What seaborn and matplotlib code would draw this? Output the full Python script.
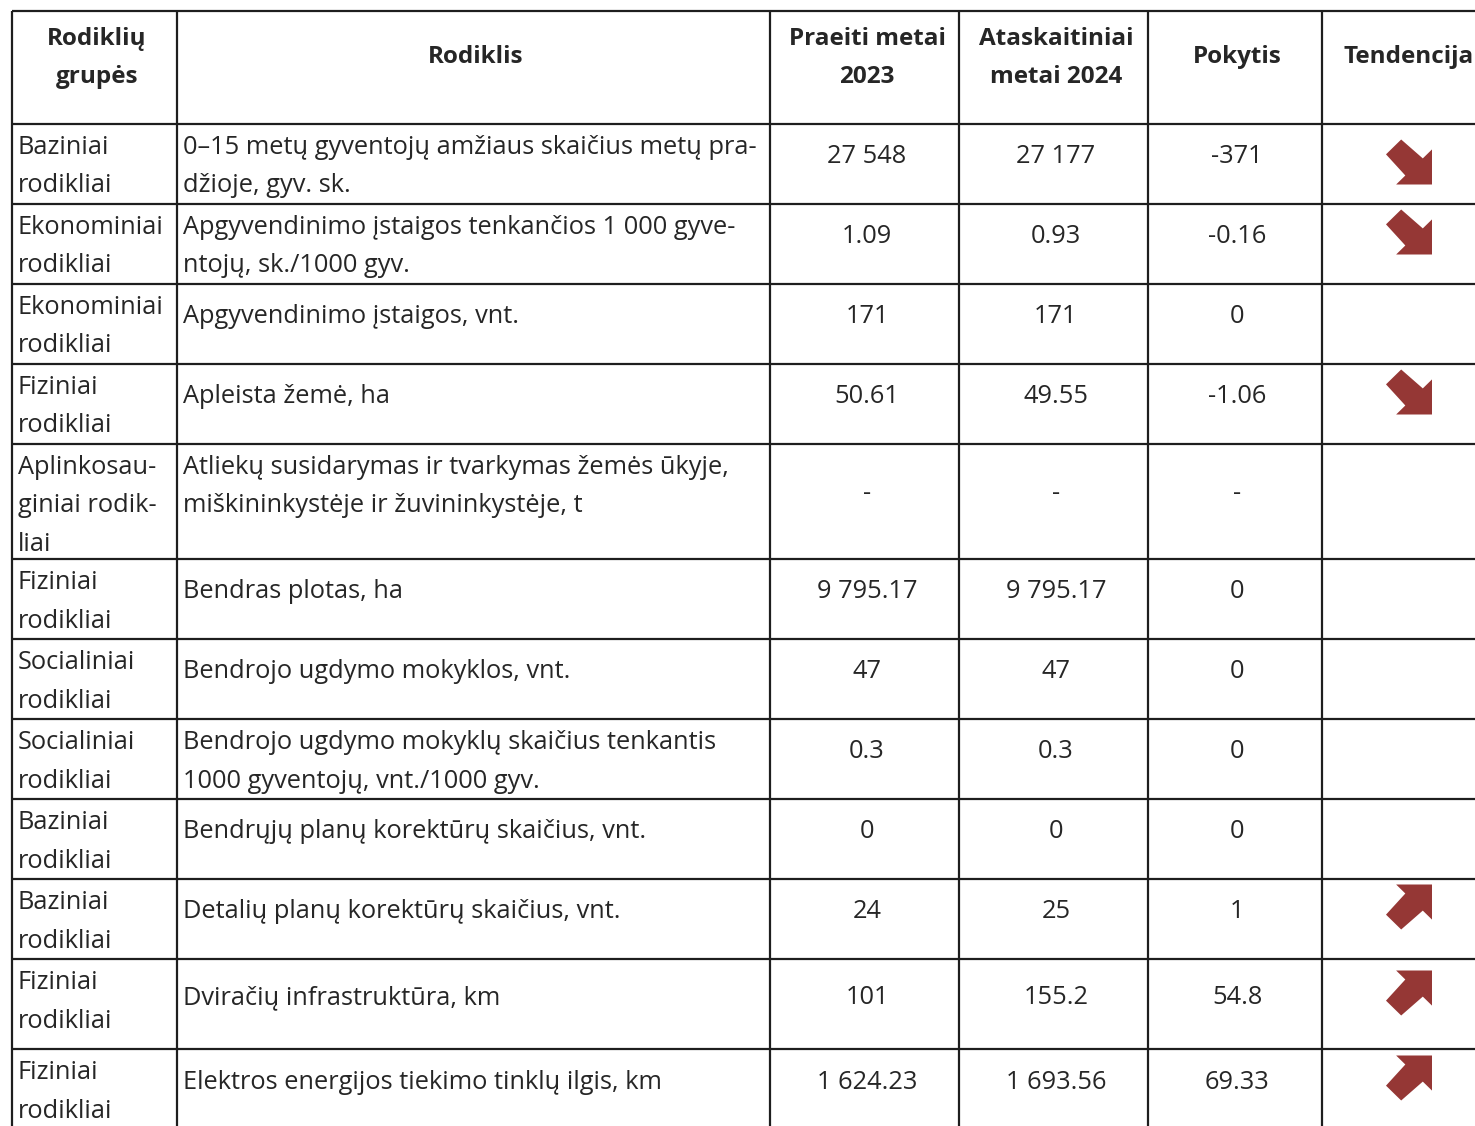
import matplotlib
matplotlib.use('Agg')
import matplotlib.pyplot as plt
import seaborn as sns
from matplotlib.patches import Polygon

# -----------------------------
# DATA
# -----------------------------
headers = ['Rodiklių\ngrupės', 'Rodiklis', 'Praeiti metai\n2023',
           'Ataskaitiniai\nmetai 2024', 'Pokytis', 'Tendencija']

groups = [
    'Baziniai\nrodikliai',
    'Ekonominiai\nrodikliai',
    'Ekonominiai\nrodikliai',
    'Fiziniai\nrodikliai',
    'Aplinkosau-\nginiai rodik-\nliai',
    'Fiziniai\nrodikliai',
    'Socialiniai\nrodikliai',
    'Socialiniai\nrodikliai',
    'Baziniai\nrodikliai',
    'Baziniai\nrodikliai',
    'Fiziniai\nrodikliai',
    'Fiziniai\nrodikliai',
]

indicators = [
    '0–15 metų gyventojų amžiaus skaičius metų pra-\ndžioje, gyv. sk.',
    'Apgyvendinimo įstaigos tenkančios 1 000 gyve-\nntojų, sk./1000 gyv.',
    'Apgyvendinimo įstaigos, vnt.',
    'Apleista žemė, ha',
    'Atliekų susidarymas ir tvarkymas žemės ūkyje,\nmiškininkystėje ir žuvininkystėje, t',
    'Bendras plotas, ha',
    'Bendrojo ugdymo mokyklos, vnt.',
    'Bendrojo ugdymo mokyklų skaičius tenkantis\n1000 gyventojų, vnt./1000 gyv.',
    'Bendrųjų planų korektūrų skaičius, vnt.',
    'Detalių planų korektūrų skaičius, vnt.',
    'Dviračių infrastruktūra, km',
    'Elektros energijos tiekimo tinklų ilgis, km',
]

prev_year = ['27 548', '1.09', '171', '50.61', '-', '9 795.17',
             '47', '0.3', '0', '24', '101', '1 624.23']
curr_year = ['27 177', '0.93', '171', '49.55', '-', '9 795.17',
             '47', '0.3', '0', '25', '155.2', '1 693.56']
change = ['-371', '-0.16', '0', '-1.06', '-', '0',
          '0', '0', '0', '1', '54.8', '69.33']

# -----------------------------
# LAYOUT (pixels)
# -----------------------------
row_edges = [11, 124, 204, 284, 364, 444, 559, 639, 719, 799, 879, 959, 1049, 1140]
col_edges = [12, 177, 770, 959, 1148, 1322, 1520]
num_y = [154, 234, 314, 394, 491, 589, 669, 749, 829, 909, 995, 1080]
col_centers = [97, 476, 867, 1056, 1237, 1409]
line_gap = 38.5
arrow_color = '#953735'

sns.set_theme(style='white')
plt.rcParams['font.family'] = ['Open Sans', 'DejaVu Sans']

fig = plt.figure(figsize=(14.75, 11.26), dpi=100)
ax = fig.add_axes([0, 0, 1, 1])
ax.set_xlim(0, 1475)
ax.set_ylim(1126, 0)
ax.axis('off')

# grid lines
for y in row_edges:
    ax.plot([col_edges[0], col_edges[-1]], [y, y], color='#1e1e1e', lw=1.6,
            solid_capstyle='butt')
for x in col_edges:
    ax.plot([x, x], [row_edges[0], row_edges[-1]], color='#1e1e1e', lw=1.6,
            solid_capstyle='butt')

fs = 18.3
fs_head = 17.5

# header
for cx, h in zip(col_centers, headers):
    lines = h.split('\n')
    if len(lines) == 1:
        ax.text(cx, 63, lines[0], ha='center', va='baseline', fontsize=fs_head,
                fontweight='bold')
    else:
        for k, ln in enumerate(lines):
            ax.text(cx, 45 + k * 38, ln, ha='center', va='baseline',
                    fontsize=fs_head, fontweight='bold')


def trend_arrow(cx, cy, up):
    w, h = 46, 45
    pts = [(0.22, 1), (1, 1), (1, 0.22), (0.8, 0.42), (0.33, 0),
           (0, 0.33), (0.42, 0.8)]
    xy = []
    for u, v in pts:
        if not up:
            v = 1 - v
        xy.append((cx - w / 2 + u * w, cy + h / 2 - v * h))
    ax.add_patch(Polygon(xy, closed=True, color=arrow_color, lw=0))


# body rows
for i in range(len(groups)):
    top = row_edges[i + 1]
    for k, ln in enumerate(groups[i].split('\n')):
        ax.text(18, top + 30 + k * line_gap, ln, ha='left', va='baseline',
                fontsize=fs)
    ind_lines = indicators[i].split('\n')
    if len(ind_lines) == 1:
        ax.text(183, num_y[i] + 9, ind_lines[0], ha='left', va='baseline',
                fontsize=fs)
    else:
        for k, ln in enumerate(ind_lines):
            ax.text(183, top + 30 + k * line_gap, ln, ha='left', va='baseline',
                    fontsize=fs)
    for cx, val in zip(col_centers[2:5], [prev_year[i], curr_year[i], change[i]]):
        ax.text(cx, num_y[i] + 9, val, ha='center', va='baseline', fontsize=fs)
    if change[i] not in ('-', '0'):
        d = float(change[i])
        trend_arrow(1409, num_y[i] - 2 if i else num_y[i] + 8, d > 0)

fig.savefig('out.png', dpi=100)
